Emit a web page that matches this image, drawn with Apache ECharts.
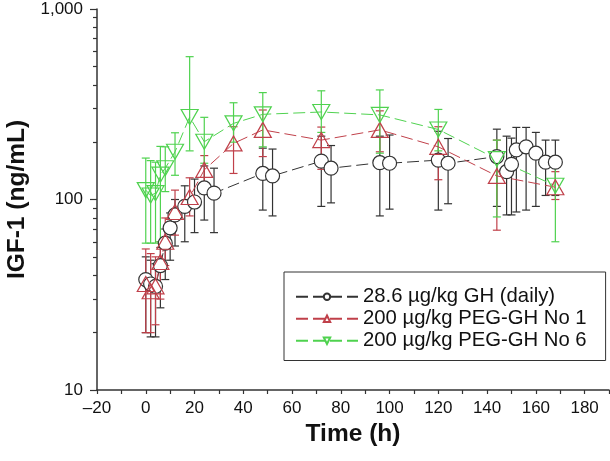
<!DOCTYPE html>
<html>
<head>
<meta charset="utf-8">
<script src="https://cdn.jsdelivr.net/npm/echarts@6/dist/echarts.min.js"></script>
<style>
  html, body { margin: 0; padding: 0; background: #fff; }
  #chart { width: 610px; height: 461px; }
</style>
</head>
<body>
<div id="chart"></div>
<script>
// 28.6 µg/kg GH (daily)
const ghTime = [0, 2, 4, 6, 8, 10, 12, 16, 20, 24, 28, 48, 52, 72, 76, 96, 100, 120, 124, 144, 148, 150, 152, 156, 160, 164, 168]
const ghMean = [38, 36, 35, 45, 59, 71, 83, 92, 97, 115, 108, 137, 133, 159, 146, 156, 155, 161, 155, 168, 140, 153, 182, 189, 175, 157, 157]
const ghUpper = [50, 48, 46, 56, 70, 85, 100, 118, 128, 150, 146, 186, 184, 215, 192, 215, 218, 228, 209, 234, 215, 210, 239, 239, 225, 205, 205]
const ghLower = [20, 19, 19, 27, 38, 48, 57, 60, 67, 78, 67, 88, 82, 92, 96, 82, 89, 88, 95, 92, 83, 83, 86, 88, 92, 105, 105]

// 200 µg/kg PEG-GH No 1
const peg1Time = [0, 2, 4, 6, 8, 12, 18, 24, 36, 48, 72, 96, 120, 144, 168]
const peg1Mean = [36, 33, 35, 47, 60, 86, 103, 143, 197, 232, 205, 232, 189, 133, 116]
const peg1Upper = [55, 52, 50, 60, 80, 112, 130, 170, 241, 295, 240, 292, 241, 205, 140]
const peg1Lower = [20, 20, 22, 30, 45, 65, 82, 115, 137, 168, 144, 178, 127, 69, 100]

// 200 µg/kg PEG-GH No 6
const peg6Time = [0, 2, 4, 6, 8, 12, 18, 24, 36, 48, 72, 96, 120, 144, 168]
const peg6Mean = [112, 105, 108, 135, 146, 178, 271, 201, 251, 280, 288, 278, 233, 163, 118]
const peg6Upper = [165, 160, 157, 190, 189, 224, 562, 270, 322, 364, 372, 376, 297, 205, 150]
const peg6Lower = [59, 59, 59, 60, 110, 134, 180, 155, 200, 189, 225, 175, 180, 81, 60]

const yMajorTicks = [10, 100, 1000]
const yMinorTicks = [20, 30, 40, 50, 60, 70, 80, 90, 200, 300, 400, 500, 600, 700, 800, 900]

const names = ['28.6 µg/kg GH (daily)', '200 µg/kg PEG-GH No 1', '200 µg/kg PEG-GH No 6']
const colors = ['#333333', '#c0404a', '#4fd24f']
const font = 'Liberation Sans, Arial, sans-serif'

function pairs (xs, ys) {
  return xs.map((x, i) => [x, ys[i]])
}

function errorBars (id, times, lower, upper, color) {
  return {
    type: 'custom',
    name: id,
    data: times.map((t, i) => [t, lower[i], upper[i]]),
    encode: { x: 0, y: [1, 2] },
    z: 1,
    silent: true,
    renderItem (params, api) {
      const lo = api.coord([api.value(0), api.value(1)])
      const hi = api.coord([api.value(0), api.value(2)])
      const w = 4
      const style = { stroke: color, lineWidth: 1.2 }
      return {
        type: 'group',
        children: [
          { type: 'line', shape: { x1: hi[0], y1: hi[1], x2: lo[0], y2: lo[1] }, style },
          { type: 'line', shape: { x1: hi[0] - w, y1: hi[1], x2: hi[0] + w, y2: hi[1] }, style },
          { type: 'line', shape: { x1: lo[0] - w, y1: lo[1], x2: lo[0] + w, y2: lo[1] }, style }
        ]
      }
    }
  }
}

function lineSeries (name, data, color, symbol, size, rotate, fill) {
  return {
    type: 'line',
    name,
    data,
    z: 3,
    symbol,
    symbolSize: size,
    symbolRotate: rotate,
    showAllSymbol: true,
    lineStyle: { color, width: 1, type: [12, 5] },
    itemStyle: { color: fill, borderColor: color, borderWidth: 1.2 }
  }
}

const chart = echarts.init(document.getElementById('chart'))
chart.setOption({
  animation: false,
  textStyle: { fontFamily: font },
  grid: { left: 97, right: 1, top: 9, bottom: 71, containLabel: false, outerBoundsMode: 'none' },
  legend: {
    data: names,
    orient: 'vertical',
    left: 284,
    top: 272,
    padding: [14, 19, 9, 11],
    itemWidth: 62,
    itemHeight: 8,
    itemGap: 0.5,
    borderColor: '#333',
    borderWidth: 1,
    textStyle: { fontSize: 20.3, color: '#111', fontFamily: font, lineHeight: 21.5 }
  },
  xAxis: {
    type: 'value',
    min: -20,
    max: 190,
    interval: 10,
    name: 'Time (h)',
    nameLocation: 'middle',
    nameGap: 23,
    nameTextStyle: { fontSize: 24.5, fontWeight: 'bold', color: '#111', fontFamily: font },
    axisLine: { onZero: false, lineStyle: { color: '#333', width: 1.5 } },
    axisTick: { length: 4, lineStyle: { color: '#333', width: 1.2 } },
    axisLabel: {
      fontSize: 17,
      color: '#111',
      margin: 10,
      formatter: v => (v % 20 === 0 && v <= 180) ? String(v).replace('-', '–') : ''
    },
    splitLine: { show: false }
  },
  yAxis: [
    {
      type: 'log',
      logBase: 10,
      min: 10,
      max: 1000,
      name: 'IGF-1 (ng/mL)',
      nameLocation: 'middle',
      nameGap: 60,
      nameTextStyle: { fontSize: 24.5, fontWeight: 'bold', color: '#111', fontFamily: font },
      axisLine: { show: true, onZero: false, lineStyle: { color: '#333', width: 1.5 } },
      axisTick: { show: true, length: 7, customValues: yMajorTicks, lineStyle: { color: '#333', width: 1.2 } },
      axisLabel: {
        fontSize: 17,
        color: '#111',
        margin: 14,
        customValues: yMajorTicks,
        formatter: v => v >= 1000 ? '1,000' : String(v)
      },
      splitLine: { show: false }
    },
    {
      type: 'log',
      logBase: 10,
      min: 10,
      max: 1000,
      position: 'left',
      axisLine: { show: false, onZero: false },
      axisTick: { show: true, length: 4, customValues: yMinorTicks, lineStyle: { color: '#333', width: 1.2 } },
      axisLabel: { show: false },
      splitLine: { show: false }
    }
  ],
  series: [
    errorBars('gh-err', ghTime, ghLower, ghUpper, colors[0]),
    errorBars('peg1-err', peg1Time, peg1Lower, peg1Upper, colors[1]),
    errorBars('peg6-err', peg6Time, peg6Lower, peg6Upper, colors[2]),
    lineSeries(names[0], pairs(ghTime, ghMean), colors[0], 'circle', 14, 0, '#fff'),
    lineSeries(names[1], pairs(peg1Time, peg1Mean), colors[1], 'triangle', [17, 15], 0, 'rgba(255,255,255,0)'),
    lineSeries(names[2], pairs(peg6Time, peg6Mean), colors[2], 'triangle', [17, 15], 180, 'rgba(255,255,255,0)')
  ]
})
</script>
</body>
</html>
